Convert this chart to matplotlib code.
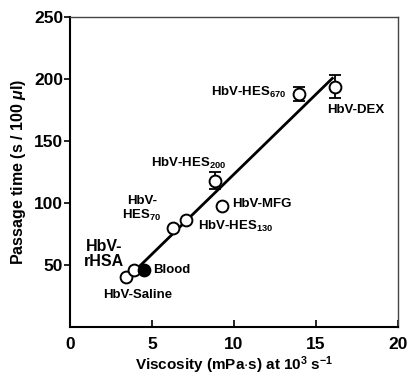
import numpy as np
from matplotlib import pyplot as plt

plt.rcParams['font.family'] = ['Liberation Sans', 'DejaVu Sans']
plt.rcParams['font.weight'] = 'bold'
plt.rcParams['axes.labelweight'] = 'bold'
plt.rcParams['mathtext.fontset'] = 'custom'
plt.rcParams['mathtext.rm'] = 'Liberation Sans:bold'
plt.rcParams['mathtext.it'] = 'Liberation Sans:italic:bold'
plt.rcParams['mathtext.bf'] = 'Liberation Sans:bold'

# Viskositaet (mPa s) und Passagezeit (s / 100 ul)
namen = ["HbV-Saline", "HbV-rHSA", "Blood", "HbV-HES70", "HbV-HES130",
         "HbV-MFG", "HbV-HES200", "HbV-HES670", "HbV-DEX"]
visk = [3.4, 3.9, 4.5, 6.3, 7.1, 9.3, 8.85, 13.95, 16.15]
zeit = [40, 46, 46, 80, 86, 98, 118, 188, 194]
fehler = [0, 0, 0, 0, 0, 0, 7, 6, 9]

fig = plt.figure(figsize=(4.13, 3.77), dpi=100)
ax = fig.add_axes([0.1695, 0.1326, 0.794, 0.822])

# Regressionsgerade
m, b = np.polyfit(visk, zeit, 1)
xl = np.array([3.6, 16.0])
ax.plot(xl, m * xl + b, color="black", lw=2.0, zorder=2)

for n, x, y, e in zip(namen, visk, zeit, fehler):
    fc = "black" if n == "Blood" else "white"
    if e > 0:
        ax.errorbar(x, y, yerr=e, fmt="none", ecolor="black", elinewidth=1.3,
                    capsize=4, capthick=1.3, zorder=3)
    ax.plot(x, y, "o", ms=8.5, mfc=fc, mec="black", mew=1.4, zorder=4)

fs = 9.5
ax.text(13.2, 189, "HbV-HES$_{670}$", fontsize=fs, ha="right", va="center")
ax.text(15.7, 175, "HbV-DEX", fontsize=fs, ha="left", va="center")
ax.text(7.25, 132, "HbV-HES$_{200}$", fontsize=fs, ha="center", va="center")
ax.text(9.9, 99, "HbV-MFG", fontsize=fs, ha="left", va="center")
ax.text(7.8, 81, "HbV-HES$_{130}$", fontsize=fs, ha="left", va="center")
ax.text(4.4, 95, "HbV-\nHES$_{70}$", fontsize=fs, ha="center", va="center",
        linespacing=1.1)
ax.text(2.1, 59, "HbV-\nrHSA", fontsize=11.5, ha="center", va="center",
        linespacing=1.0)
ax.text(5.1, 46, "Blood", fontsize=fs, ha="left", va="center")
ax.text(4.15, 26, "HbV-Saline", fontsize=fs, ha="center", va="center")

ax.set_xlim(0, 20)
ax.set_ylim(0, 250)
ax.set_xticks([0, 5, 10, 15, 20])
ax.set_yticks([50, 100, 150, 200, 250])
ax.tick_params(axis="x", direction="in", length=5, width=1.2, labelsize=12.5, pad=7)
ax.tick_params(axis="y", direction="out", length=4, width=1.2, labelsize=12.5, pad=1)
ax.spines["left"].set_linewidth(1.5)
ax.spines["bottom"].set_linewidth(1.5)
ax.spines["top"].set_linewidth(1.0)
ax.spines["right"].set_linewidth(1.0)
ax.spines["top"].set_color("#444444")
ax.spines["right"].set_color("#444444")

ax.set_xlabel("Viscosity (mPa$\\cdot$s) at 10$^3$ s$^{-1}$", fontsize=11, labelpad=2)
ax.set_ylabel("Passage time (s / 100 $\\mu$l)", fontsize=11.5, labelpad=4)

plt.savefig("out.png", dpi=100)
